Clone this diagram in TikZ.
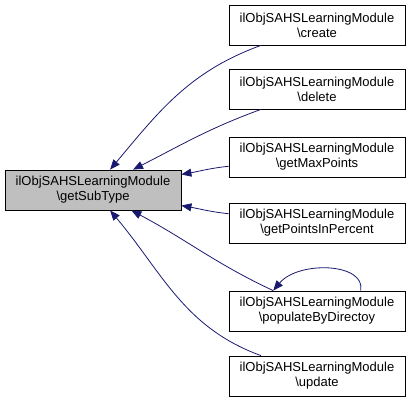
\documentclass[tikz,border=0pt]{standalone}
\usepackage{fontspec}
\setmainfont{Liberation Sans}
\usetikzlibrary{arrows.meta}
\usetikzlibrary{positioning}
\definecolor{midnight}{HTML}{191970}

\begin{document}
\begin{tikzpicture}[
    x=1pt, y=1pt,
    func/.style={rectangle, draw, line width=0.8pt, minimum width=176pt, minimum height=40pt, inner sep=0pt, align=center, font=\fontsize{13}{15}\selectfont},
    focus/.style={func, fill=black!25},
    calls/.style={draw=midnight, line width=0.8pt, -{Triangle[length=10pt, width=8pt]}, midnight}
]

\useasboundingbox (0,0) rectangle (411,-403);

% --- Function that is called ---
\node[focus] (sub) at (93,-190) {ilObjSAHSLearningModule\\\textbackslash getSubType};

% --- Callers ---
\foreach \n/\y/\f in {create/25/create, delete/89/delete, maxpts/157/getMaxPoints, pctpts/223/getPointsInPercent, populate/311/populateByDirectoy, update/376/update}
    \node[func] (\n) at (317,-\y) {ilObjSAHSLearningModule\\\textbackslash\f};

% --- Call edges ---
\draw[calls] (create) to[out=200, in=50] (sub);
\draw[calls] (delete) to[out=200, in=27] (sub);
\draw[calls] (maxpts) to[out=186, in=10] (sub);
\draw[calls] (pctpts) to[out=174, in=-10] (sub);
\draw[calls] (populate) to[out=155, in=-28] (sub);
\draw[calls] (update) to[out=160, in=-50] (sub);

% --- Recursive call ---
\draw[calls] (populate.25) .. controls +(5,28) and +(25,30) .. (populate.155);

\end{tikzpicture}
\end{document}
